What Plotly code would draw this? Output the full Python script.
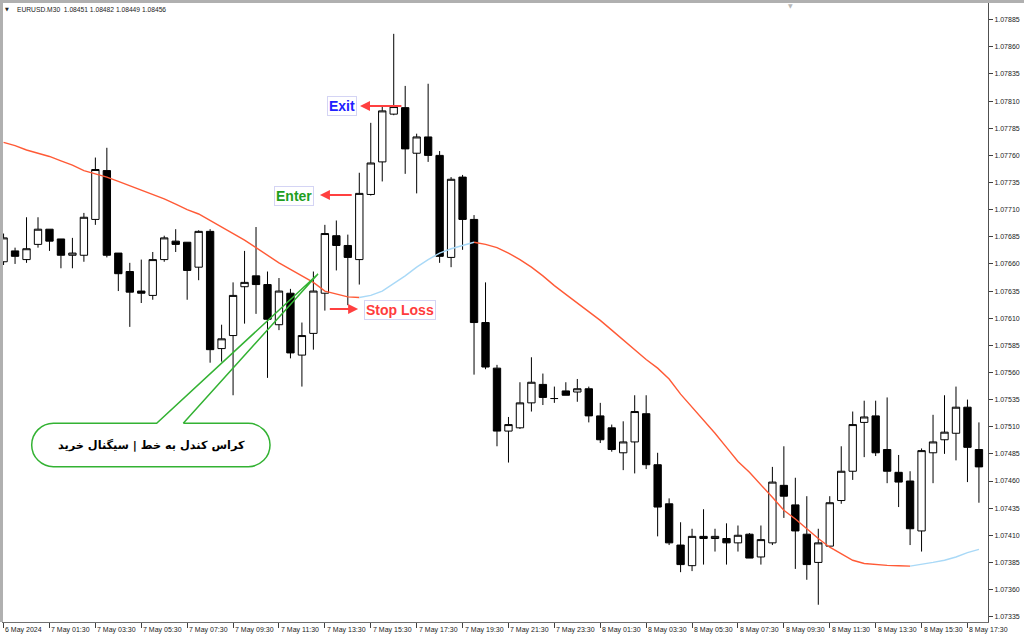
import plotly.graph_objects as go

# ---------------- data (EURUSD M30) ----------------
opens = [1.07662, 1.07672, 1.07664, 1.07678, 1.07692, 1.07683, 1.07668, 1.07668, 1.07701, 1.07746,
         1.07670, 1.07653, 1.07635, 1.07631, 1.07664, 1.07681, 1.07680, 1.07657, 1.07690, 1.07582,
         1.07594, 1.07639, 1.07649, 1.07641, 1.07604, 1.07633, 1.07576, 1.07596, 1.07633, 1.07686,
         1.07677, 1.07664, 1.07724, 1.07754, 1.07798, 1.07804, 1.07762, 1.07777, 1.07760, 1.07666,
         1.07740, 1.07701, 1.07606, 1.07564, 1.07506, 1.07509, 1.07532, 1.07549, 1.07536, 1.07543,
         1.07542, 1.07545, 1.07520, 1.07509, 1.07486, 1.07496, 1.07522, 1.07475, 1.07439, 1.07401,
         1.07382, 1.07409, 1.07407, 1.07407, 1.07403, 1.07411, 1.07390, 1.07403, 1.07456, 1.07438,
         1.07411, 1.07385, 1.07400, 1.07442, 1.07469, 1.07514, 1.07520, 1.07489, 1.07468, 1.07460,
         1.07414, 1.07486, 1.07498, 1.07504, 1.07528, 1.07489]
highs = [1.07688, 1.07675, 1.07703, 1.07703, 1.07692, 1.07683, 1.07684, 1.07707, 1.07758, 1.07767,
         1.07670, 1.07661, 1.07664, 1.07671, 1.07686, 1.07692, 1.07680, 1.07691, 1.07692, 1.07604,
         1.07643, 1.07672, 1.07694, 1.07653, 1.07647, 1.07637, 1.07606, 1.07653, 1.07696, 1.07700,
         1.07687, 1.07744, 1.07790, 1.07805, 1.07872, 1.07824, 1.07780, 1.07826, 1.07764, 1.07740,
         1.07742, 1.07705, 1.07643, 1.07567, 1.07519, 1.07551, 1.07574, 1.07559, 1.07547, 1.07551,
         1.07554, 1.07547, 1.07532, 1.07512, 1.07515, 1.07539, 1.07539, 1.07486, 1.07444, 1.07422,
         1.07416, 1.07434, 1.07416, 1.07421, 1.07419, 1.07412, 1.07419, 1.07473, 1.07492, 1.07463,
         1.07446, 1.07416, 1.07446, 1.07492, 1.07524, 1.07534, 1.07534, 1.07537, 1.07484, 1.07469,
         1.07490, 1.07521, 1.07539, 1.07547, 1.07535, 1.07514]
lows = [1.07659, 1.07660, 1.07661, 1.07675, 1.07672, 1.07656, 1.07656, 1.07662, 1.07696, 1.07666,
        1.07635, 1.07602, 1.07624, 1.07627, 1.07662, 1.07671, 1.07627, 1.07645, 1.07569, 1.07570,
        1.07539, 1.07605, 1.07614, 1.07555, 1.07599, 1.07573, 1.07547, 1.07581, 1.07617, 1.07654,
        1.07622, 1.07641, 1.07723, 1.07736, 1.07797, 1.07743, 1.07725, 1.07754, 1.07661, 1.07657,
        1.07673, 1.07558, 1.07563, 1.07492, 1.07477, 1.07508, 1.07524, 1.07530, 1.07532, 1.07539,
        1.07533, 1.07514, 1.07495, 1.07487, 1.07470, 1.07467, 1.07471, 1.07409, 1.07401, 1.07376,
        1.07377, 1.07383, 1.07395, 1.07383, 1.07395, 1.07389, 1.07383, 1.07401, 1.07426, 1.07379,
        1.07369, 1.07346, 1.07399, 1.07439, 1.07461, 1.07482, 1.07483, 1.07458, 1.07436, 1.07401,
        1.07395, 1.07458, 1.07485, 1.07479, 1.07459, 1.07440]
closes = [1.07684, 1.07667, 1.07674, 1.07692, 1.07681, 1.07668, 1.07670, 1.07703, 1.07747, 1.07668,
          1.07651, 1.07634, 1.07633, 1.07664, 1.07684, 1.07678, 1.07654, 1.07690, 1.07581, 1.07591,
          1.07631, 1.07643, 1.07641, 1.07609, 1.07635, 1.07578, 1.07594, 1.07635, 1.07688, 1.07677,
          1.07666, 1.07725, 1.07753, 1.07801, 1.07805, 1.07766, 1.07777, 1.07760, 1.07667, 1.07738,
          1.07701, 1.07606, 1.07565, 1.07506, 1.07512, 1.07532, 1.07551, 1.07537, 1.07536, 1.07539,
          1.07545, 1.07520, 1.07498, 1.07489, 1.07496, 1.07524, 1.07475, 1.07436, 1.07403, 1.07383,
          1.07409, 1.07407, 1.07409, 1.07403, 1.07410, 1.07389, 1.07406, 1.07459, 1.07446, 1.07414,
          1.07383, 1.07403, 1.07440, 1.07469, 1.07512, 1.07519, 1.07486, 1.07469, 1.07459, 1.07416,
          1.07488, 1.07496, 1.07505, 1.07528, 1.07491, 1.07473]
moving_avg = [1.07772, 1.07769, 1.07765, 1.07762, 1.07759, 1.07755, 1.07751, 1.07746, 1.07743, 1.07740,
              1.07736, 1.07732, 1.07728, 1.07724, 1.07720, 1.07715, 1.07710, 1.07706, 1.07700, 1.07694,
              1.07688, 1.07682, 1.07675, 1.07668, 1.07661, 1.07655, 1.07649, 1.07643, 1.07635, 1.07632,
              1.076296, 1.076291, 1.07631, 1.07635, 1.07642, 1.07649, 1.07657, 1.07664, 1.07670, 1.07674,
              1.07677, 1.07680, 1.07678, 1.07675, 1.07670, 1.07664, 1.07657, 1.07649, 1.07640, 1.07632,
              1.07624, 1.07616, 1.07608, 1.07599, 1.07590, 1.07581, 1.07572, 1.07564, 1.07554, 1.07540,
              1.07528, 1.07517, 1.07504, 1.07491, 1.07478, 1.07468, 1.07457, 1.07445, 1.07433, 1.07425,
              1.07416, 1.07407, 1.07399, 1.07393, 1.07387, 1.07384, 1.07383, 1.073823, 1.073819, 1.073816,
              1.07383, 1.07385, 1.07387, 1.07390, 1.07394, 1.07397]

tick_idx = [0, 4, 8, 12, 16, 20, 24, 28, 32, 36, 40, 44, 48, 52, 56, 60, 64, 68, 72, 76, 80, 84]
tick_text = ["6 May 2024", "7 May 01:30", "7 May 03:30", "7 May 05:30", "7 May 07:30",
             "7 May 09:30", "7 May 11:30", "7 May 13:30", "7 May 15:30", "7 May 17:30",
             "7 May 19:30", "7 May 21:30", "7 May 23:30", "8 May 01:30", "8 May 03:30",
             "8 May 05:30", "8 May 07:30", "8 May 09:30", "8 May 11:30", "8 May 13:30",
             "8 May 15:30", "8 May 17:30"]
price_ticks = [1.07335, 1.07360, 1.07385, 1.07410, 1.07435, 1.07460, 1.07485, 1.07510,
               1.07535, 1.07560, 1.07585, 1.07610, 1.07635, 1.07660, 1.07685, 1.07710,
               1.07735, 1.07760, 1.07785, 1.07810, 1.07835, 1.07860, 1.07885]
header_text = "EURUSD.M30  1.08451 1.08482 1.08449 1.08456"

# ---------------- layout constants ----------------
W, H = 1024, 639
ML, MR, MT, MB = 3, 36, 3, 17
PW, PH = W - ML - MR, H - MT - MB
X_RANGE = [-0.05, 85.79]
Y_RANGE = [1.073301, 1.079004]
XS = PW / (X_RANGE[1] - X_RANGE[0])   # px per candle
YS = PH / (Y_RANGE[1] - Y_RANGE[0])   # px per price unit

idx = list(range(len(opens)))

fig = go.Figure()

fig.add_trace(go.Candlestick(
    x=idx, open=opens, high=highs, low=lows, close=closes,
    increasing=dict(fillcolor="white", line=dict(color="black", width=1)),
    decreasing=dict(fillcolor="black", line=dict(color="black", width=1)),
    whiskerwidth=0, showlegend=False, hoverinfo="skip"))

# moving average coloured by slope
red_y = [None] * len(moving_avg)
blue_y = [None] * len(moving_avg)
for i in range(1, len(moving_avg)):
    tgt = blue_y if moving_avg[i] > moving_avg[i - 1] else red_y
    tgt[i - 1] = moving_avg[i - 1]
    tgt[i] = moving_avg[i]
fig.add_trace(go.Scatter(x=idx, y=red_y, mode="lines", line=dict(color="#ff5a36", width=1.4),
                         showlegend=False, hoverinfo="skip"))
fig.add_trace(go.Scatter(x=idx, y=blue_y, mode="lines", line=dict(color="#a9d9f7", width=1.4),
                         showlegend=False, hoverinfo="skip"))

annotations = []
# time labels (left aligned after tick, MT4 style)
for k, t in zip(tick_idx, tick_text):
    annotations.append(dict(x=k, y=0, xref="x", yref="paper", text=t, showarrow=False,
                            xanchor="left", yanchor="top", xshift=(-1 if k == 0 else 0), yshift=-2,
                            font=dict(family="Liberation Sans", size=7, color="#222222")))

# header
annotations.append(dict(x=(15 - ML) / PW, y=1, xref="paper", yref="paper", text=header_text,
                        showarrow=False, xanchor="left", yanchor="middle", yshift=-6,
                        font=dict(family="Liberation Sans", size=6.7, color="#222222")))
annotations.append(dict(x=(7 - ML) / PW, y=1, xref="paper", yref="paper", text="▼",
                        showarrow=False, xanchor="center", yanchor="middle", yshift=-6,
                        font=dict(family="DejaVu Sans", size=5, color="#222222")))
annotations.append(dict(x=(790 - ML) / PW, y=1, xref="paper", yref="paper", text="▼",
                        showarrow=False, xanchor="center", yanchor="middle", yshift=-2,
                        font=dict(family="DejaVu Sans", size=6, color="#b8b8b8")))

label_box = dict(bgcolor="white", bordercolor="#d4d4f4", borderwidth=1, borderpad=1)
annotations.append(dict(x=29.49, y=1.078055, text="<b>Exit</b>", showarrow=False,
                        font=dict(family="Liberation Sans", size=14, color="#2020ff"), **label_box))
annotations.append(dict(x=25.31, y=1.07723, text="<b>Enter</b>", showarrow=False,
                        font=dict(family="Liberation Sans", size=14, color="#1e9e1e"), **label_box))
annotations.append(dict(x=34.59, y=1.076171, text="<b>Stop Loss</b>", showarrow=False,
                        font=dict(family="Liberation Sans", size=14, color="#ff3c3c"), **label_box))

arrow = dict(text="", showarrow=True, arrowhead=2, arrowsize=1, arrowwidth=2,
             arrowcolor="#ff4040", axref="x", ayref="y")
annotations.append(dict(x=31.06, y=1.078055, ax=34.8, ay=1.078055, **arrow))
annotations.append(dict(x=27.57, y=1.077235, ax=30.47, ay=1.077235, **arrow))
annotations.append(dict(x=30.9, y=1.076185, ax=28.3, ay=1.076185, **arrow))

# callout text (Persian)
annotations.append(dict(x=12.85, y=1.074932, text="<b>کراس کندل به خط | سیگنال خرید</b>",
                        showarrow=False, font=dict(family="DejaVu Sans", size=11.3, color="black")))

# callout pill + pointer
L, R, T, B = 2.45, 23.22, 1.075132, 1.074732
apex_x, apex_y = 27.40, 1.076507
base_l, base_r = 13.34, 15.66
r_px = (T - B) * YS / 2
rx, ry = r_px / XS, r_px / YS
kk = 0.5523
mid = T - ry
path = (f"M {base_r},{T} L {R - rx},{T} "
        f"C {R - rx + kk * rx},{T} {R},{mid + kk * ry} {R},{mid} "
        f"C {R},{mid - kk * ry} {R - rx + kk * rx},{B} {R - rx},{B} "
        f"L {L + rx},{B} "
        f"C {L + rx - kk * rx},{B} {L},{mid - kk * ry} {L},{mid} "
        f"C {L},{mid + kk * ry} {L + rx - kk * rx},{T} {L + rx},{T} "
        f"L {base_l},{T} L {apex_x},{apex_y} L {base_r},{T}")

shapes = [
    dict(type="path", path=path, xref="x", yref="y", line=dict(color="#33b233", width=1.5),
         fillcolor="rgba(0,0,0,0)", layer="above"),
    # window frame strips
    dict(type="rect", xref="paper", yref="paper", x0=-ML / PW, x1=0, y0=0, y1=1 + MT / PH,
         fillcolor="#b0b0b0", line=dict(width=0), layer="above"),
    dict(type="rect", xref="paper", yref="paper", x0=-ML / PW, x1=1 + MR / PW, y0=1, y1=1 + MT / PH,
         fillcolor="#b0b0b0", line=dict(width=0), layer="above"),
]

fig.update_layout(
    width=W, height=H,
    margin=dict(l=ML, r=MR, t=MT, b=MB, pad=0),
    paper_bgcolor="white", plot_bgcolor="white",
    showlegend=False, boxgap=0.2, boxgroupgap=0.2,
    annotations=annotations, shapes=shapes,
    xaxis=dict(range=X_RANGE, showgrid=False, zeroline=False, rangeslider=dict(visible=False),
               showline=True, linecolor="#707070", linewidth=1, mirror=True,
               tickmode="array", tickvals=tick_idx, ticks="outside", ticklen=5, tickcolor="#404040",
               showticklabels=False),
    yaxis=dict(range=Y_RANGE, side="right", showgrid=False, zeroline=False,
               showline=True, linecolor="#505050", linewidth=1, mirror=True,
               tickmode="array", tickvals=price_ticks, tickformat=".5f",
               ticks="outside", ticklen=4, tickcolor="#404040",
               tickfont=dict(family="Liberation Sans", size=7, color="#222222")),
)

fig.write_html("out.html", config={"displayModeBar": False},
               post_script="document.body.style.margin='0';document.body.style.overflow='hidden';")
